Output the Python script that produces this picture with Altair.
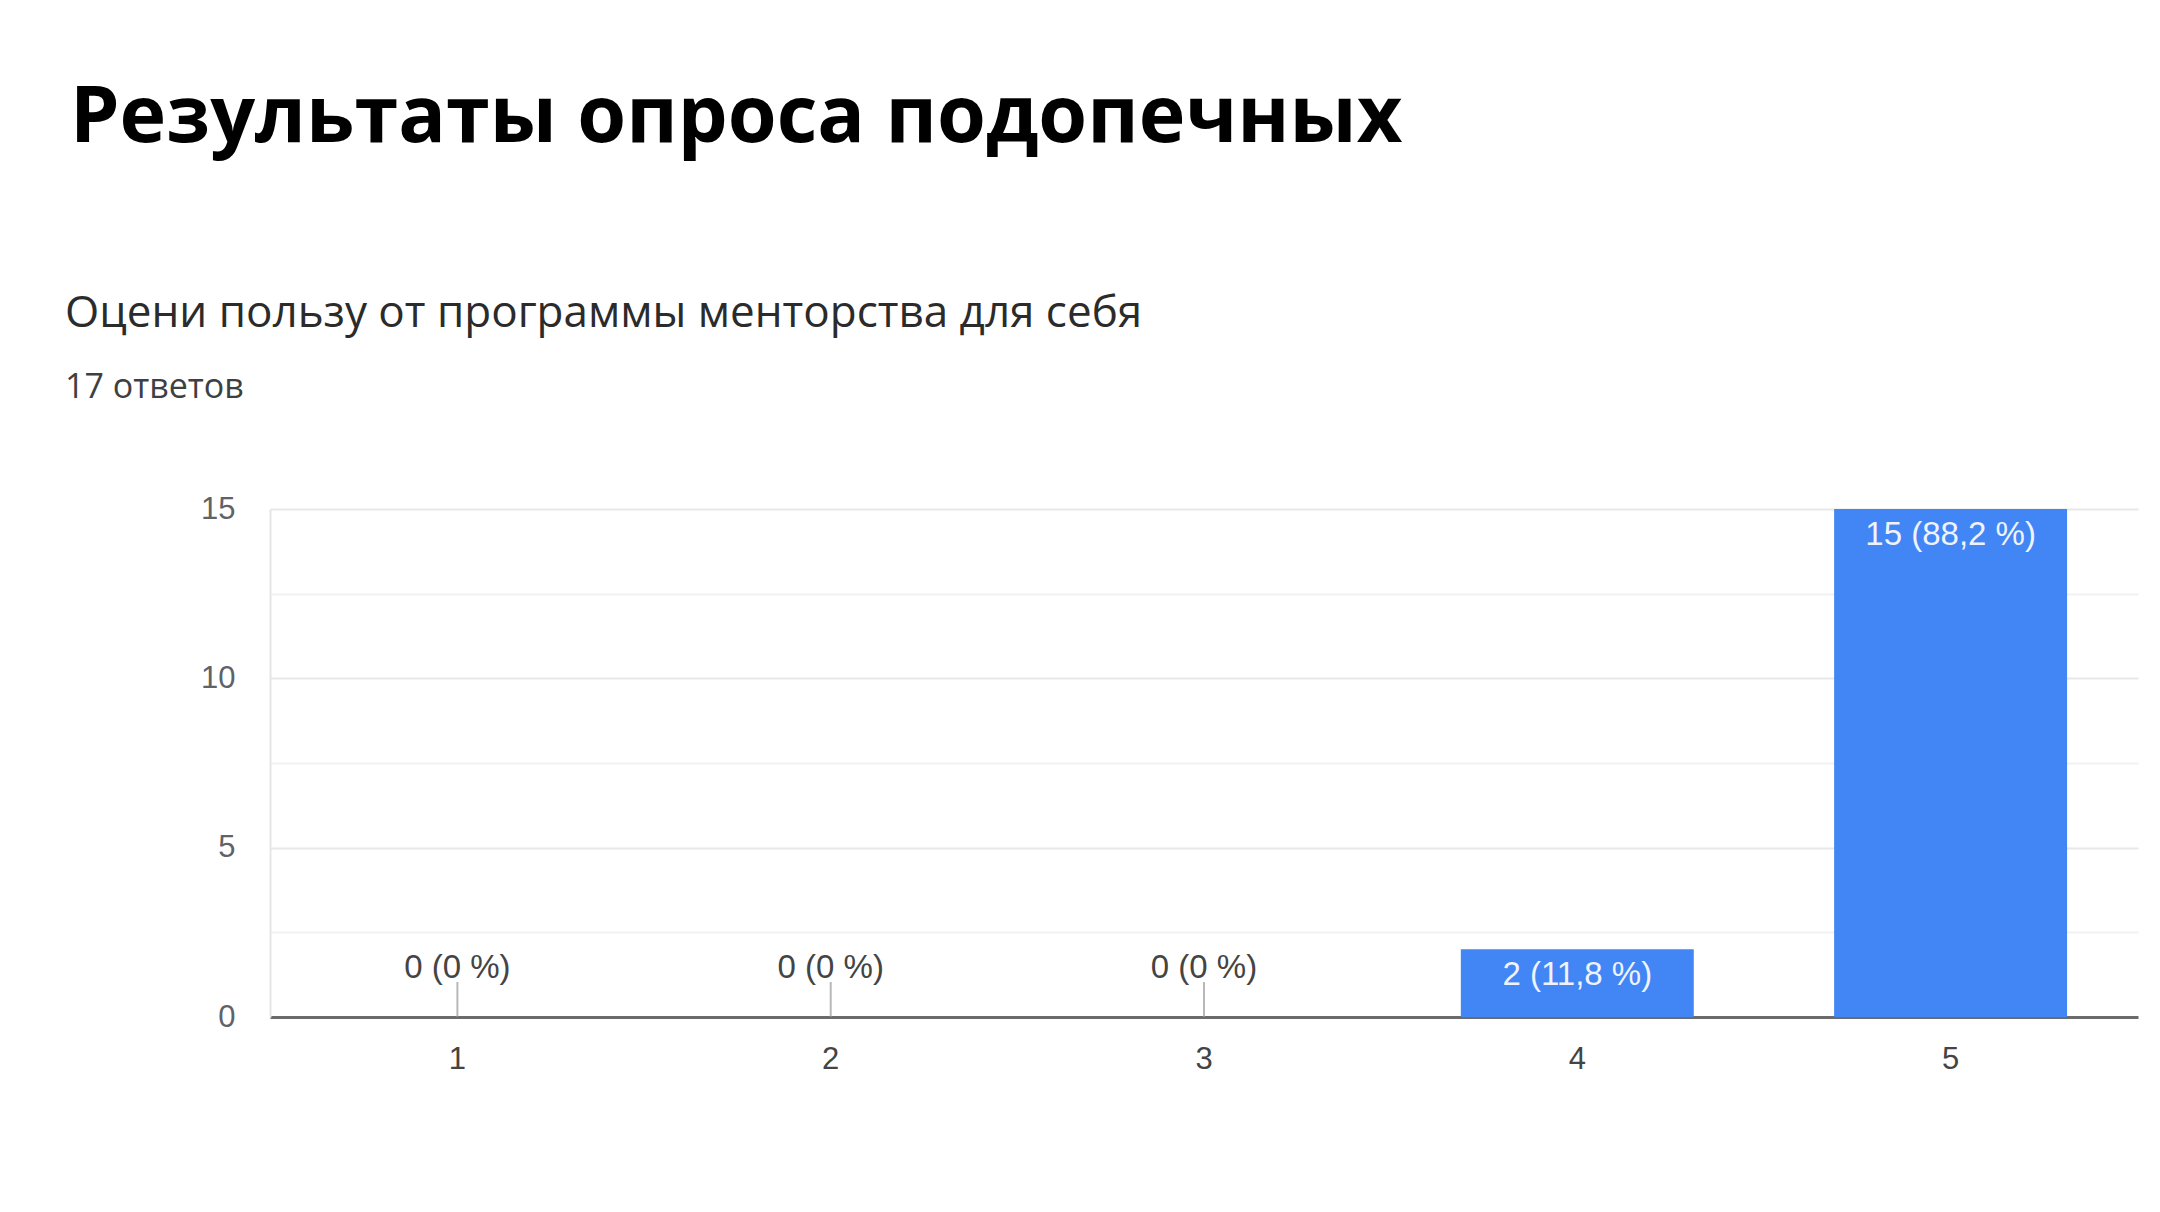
import altair as alt
import pandas as pd

# ---- data ----
TITLE = "Результаты опроса подопечных"
QUESTION = "Оцени пользу от программы менторства для себя"
ANSWERS = "17 ответов"

categories = ["1", "2", "3", "4", "5"]
counts = [0, 0, 0, 2, 15]
percents = ["0 %", "0 %", "0 %", "11,8 %", "88,2 %"]

df = pd.DataFrame({
    "cat": categories,
    "count": counts,
    "label": [f"{c} ({p})" for c, p in zip(counts, percents)],
})

BLUE = "#4285f4"
LABEL_FONT = "Liberation Sans"

x_enc = alt.X("cat:N", sort=categories,
              scale=alt.Scale(paddingInner=0.376, paddingOuter=0.19),
              axis=alt.Axis(title=None, labelAngle=0, ticks=False, labelPadding=27,
                            labelFont=LABEL_FONT, labelFontSize=31, labelColor="#444444",
                            domainColor="#6b6b6b", domainWidth=3, grid=False))
y_scale = alt.Scale(domain=[0, 15], nice=False)

base = alt.Chart(df)

bars = base.transform_filter("datum.count > 0").mark_bar(color=BLUE).encode(
    x=x_enc,
    y=alt.Y("count:Q", scale=y_scale,
            axis=alt.Axis(title=None, values=[0, 2.5, 5, 7.5, 10, 12.5, 15],
                          labelExpr="datum.value % 5 === 0 ? datum.label : ''",
                          ticks=False, labelPadding=35,
                          labelFont=LABEL_FONT, labelFontSize=31, labelColor="#5f6368",
                          domainColor="#e6e6e6", domainWidth=2,
                          gridColor={"condition": {"test": "datum.value % 5 === 0", "value": "#e8e8e8"},
                                     "value": "#f1f1f1"},
                          gridWidth=2)),
)

inside = base.transform_filter("datum.count > 0").mark_text(
    baseline="middle", dy=26, font=LABEL_FONT, fontSize=33, color="#eef3fd"
).encode(x=alt.X("cat:N", sort=categories), y=alt.Y("count:Q", scale=y_scale), text="label:N")

zero_lbl = base.transform_filter("datum.count == 0").mark_text(
    baseline="middle", dy=-49, font=LABEL_FONT, fontSize=33, color="#444444"
).encode(x=alt.X("cat:N", sort=categories), y=alt.Y("count:Q", scale=y_scale), text="label:N")

zero_tick = base.transform_filter("datum.count == 0").mark_tick(
    orient="vertical", size=35, thickness=2, yOffset=-17.5, color="#9a9a9a"
).encode(x=alt.X("cat:N", sort=categories), y=alt.Y("count:Q", scale=y_scale))

def heading(text, fs, weight, color, x, y, font):
    return alt.Chart(alt.Data(values=[{"t": text}])).mark_text(
        align="left", baseline="alphabetic", fontSize=fs, fontWeight=weight,
        color=color, font=font
    ).encode(x=alt.value(x), y=alt.value(y), text="t:N")

h1 = heading(TITLE, 79, "bold", "#000000", -200, -367, "Open Sans")
h2 = heading(QUESTION, 44, "normal", "#2b2b2b", -205, -182, "Open Sans")
h3 = heading(ANSWERS, 34, "normal", "#3c4043", -205, -111, "Open Sans")

chart = alt.layer(bars, inside, zero_lbl, zero_tick, h1, h2, h3).properties(
    width=1868, height=508,
    autosize=alt.AutoSizeParams(type="none"),
    padding={"left": 262, "top": 501, "right": 10, "bottom": 150},
    background="white",
).configure_view(strokeWidth=0)

chart.save("out.html", embed_options={"renderer": "svg", "actions": False})
